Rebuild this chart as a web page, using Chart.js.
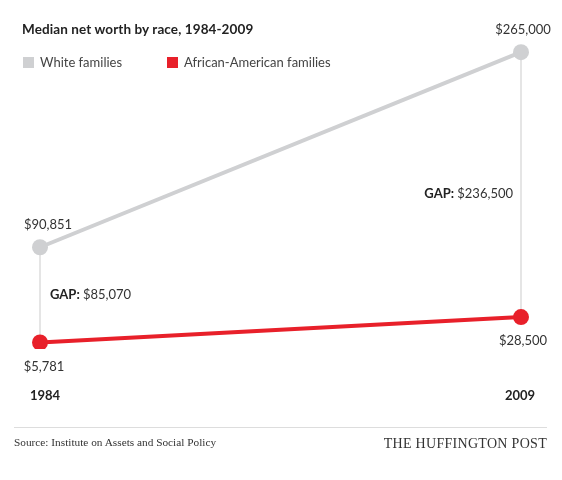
<!DOCTYPE html>
<html>
<head>
<meta charset="utf-8">
<script src="https://cdn.jsdelivr.net/npm/chart.js@4"></script>
<style>
  html, body { margin: 0; padding: 0; background: #fff; }
  .wrap { position: relative; width: 562px; height: 480px; overflow: hidden; }
  canvas { position: absolute; left: 0; top: 0; }
  .title { position: absolute; left: 22px; top: 21px; font: bold 13.5px Lato, sans-serif; color: #222; letter-spacing: 0.1px; }
  .legend { position: absolute; top: 54px; font: 13px Lato, sans-serif; color: #444; }
  .legend i { display: inline-block; width: 11px; height: 11px; vertical-align: -1px; margin-right: 6px; }
  .rule { position: absolute; left: 14px; width: 533px; top: 427px; border-top: 1px solid #ddd; }
  .source { position: absolute; left: 14px; top: 436px; font: 11.3px "Liberation Serif", serif; color: #333; }
  .brand { position: absolute; right: 15px; top: 436px; font: 14px "Liberation Serif", serif; color: #333; letter-spacing: 0.3px; }
</style>
</head>
<body>
<div class="wrap">
  <canvas id="chart" width="562" height="480"></canvas>
  <div class="title">Median net worth by race, 1984-2009</div>
  <div class="legend" style="left:23px"><i style="background:#cfd0d2"></i>White families</div>
  <div class="legend" style="left:167px"><i style="background:#e8202a"></i>African-American families</div>
  <div class="rule"></div>
  <div class="source">Source: Institute on Assets and Social Policy</div>
  <div class="brand">THE HUFFINGTON POST</div>
</div>
<script>
const years = ["1984", "2009"]
const whiteFamilies = [90851, 265000]
const africanAmericanFamilies = [5781, 28500]
const gapValues = [85070, 236500]

const GRAY = "#cfd0d2"
const RED = "#e8202a"

const money = (v) => "$" + v.toLocaleString("en-US")

// gap connectors, value labels, gap labels and year labels
const annotations = {
  id: "annotations",
  beforeDatasetsDraw(chart) {
    const { ctx, scales: { x, y } } = chart
    ctx.save()
    ctx.strokeStyle = "#dcdcdc"
    ctx.lineWidth = 1.5
    years.forEach((_, i) => {
      const px = x.getPixelForValue(i)
      ctx.beginPath()
      ctx.moveTo(px, y.getPixelForValue(whiteFamilies[i]))
      ctx.lineTo(px, y.getPixelForValue(africanAmericanFamilies[i]))
      ctx.stroke()
    })
    ctx.restore()
  },
  afterDatasetsDraw(chart) {
    const { ctx, chartArea, scales: { x, y } } = chart
    ctx.save()
    ctx.textBaseline = "middle"
    ctx.fillStyle = "#333"
    ctx.font = "13px Lato, sans-serif"
    ctx.textAlign = "center"

    years.forEach((_, i) => {
      const px = x.getPixelForValue(i)
      const nudge = i === 0 ? 8 : 2
      ctx.fillText(money(whiteFamilies[i]), px + nudge, y.getPixelForValue(whiteFamilies[i]) - 22)
      ctx.fillText(money(africanAmericanFamilies[i]), px + (i === 0 ? 4 : 2), y.getPixelForValue(africanAmericanFamilies[i]) + 24)
    })

    // gap labels
    years.forEach((_, i) => {
      const px = x.getPixelForValue(i)
      const mid = (y.getPixelForValue(whiteFamilies[i]) + y.getPixelForValue(africanAmericanFamilies[i])) / 2
      const ly = i === 0 ? mid : mid + 9
      const bold = "GAP: "
      const rest = money(gapValues[i])
      ctx.font = "bold 13px Lato, sans-serif"
      const bw = ctx.measureText(bold).width
      ctx.font = "13px Lato, sans-serif"
      const rw = ctx.measureText(rest).width
      const start = i === 0 ? px + 10 : px - 8 - bw - rw
      ctx.textAlign = "left"
      ctx.fillStyle = "#222"
      ctx.font = "bold 13px Lato, sans-serif"
      ctx.fillText(bold, start, ly)
      ctx.fillStyle = "#333"
      ctx.font = "13px Lato, sans-serif"
      ctx.fillText(rest, start + bw, ly)
    })

    // year labels
    ctx.fillStyle = "#222"
    ctx.font = "bold 13px Lato, sans-serif"
    ctx.textAlign = "center"
    years.forEach((year, i) => {
      ctx.fillText(year, x.getPixelForValue(i) + (i === 0 ? 5 : -1), chartArea.bottom + 47)
    })
    ctx.restore()
  }
}

new Chart(document.getElementById("chart"), {
  type: "line",
  data: {
    labels: years,
    datasets: [
      {
        label: "White families",
        data: whiteFamilies,
        borderColor: GRAY,
        backgroundColor: GRAY,
        pointBackgroundColor: GRAY,
        borderWidth: 4,
        pointRadius: 8,
        pointBorderWidth: 0,
        tension: 0
      },
      {
        label: "African-American families",
        data: africanAmericanFamilies,
        borderColor: RED,
        backgroundColor: RED,
        pointBackgroundColor: RED,
        borderWidth: 4,
        pointRadius: 8,
        pointBorderWidth: 0,
        tension: 0
      }
    ]
  },
  options: {
    responsive: false,
    animation: false,
    layout: { padding: { left: 40, right: 41, top: 13, bottom: 131 } },
    plugins: { legend: { display: false }, tooltip: { enabled: false } },
    scales: {
      x: { type: "category", offset: false, display: false },
      y: { min: 0, max: 300000, display: false }
    }
  },
  plugins: [annotations]
})
</script>
</body>
</html>
